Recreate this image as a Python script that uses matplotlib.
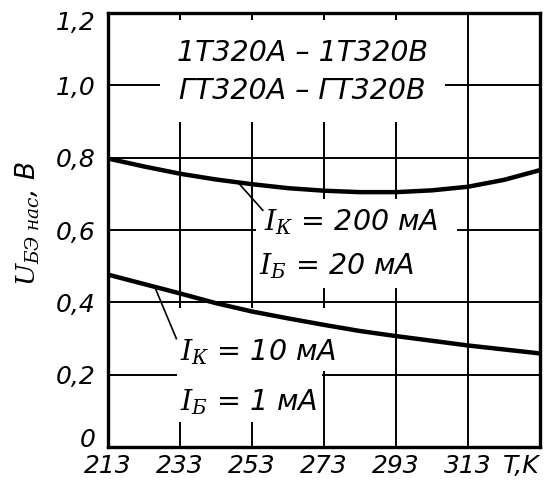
import matplotlib.pyplot as plt
import matplotlib.transforms as mtransforms
from matplotlib.patches import Rectangle

plt.rcParams['font.family'] = ['DejaVu Sans']
plt.rcParams['font.style'] = 'italic'
plt.rcParams['mathtext.fontset'] = 'dejavuserif'

# данные
T = [213, 223, 233, 243, 253, 263, 273, 283, 293, 303, 313, 323, 333]
u_200 = [0.798, 0.776, 0.756, 0.740, 0.727, 0.716, 0.709, 0.705, 0.705, 0.710, 0.720, 0.739, 0.766]
u_10 = [0.477, 0.451, 0.425, 0.398, 0.375, 0.356, 0.338, 0.321, 0.307, 0.294, 0.281, 0.270, 0.259]

x_ticks = [213, 233, 253, 273, 293, 313, 333]
x_labels = ['213', '233', '253', '273', '293', '313', 'T,K']
y_ticks = [0, 0.2, 0.4, 0.6, 0.8, 1.0, 1.2]
y_labels = ['0', '0,2', '0,4', '0,6', '0,8', '1,0', '1,2']

fig = plt.figure(figsize=(5.45, 4.86), dpi=100)
ax = fig.add_axes([0.198, 0.080, 0.793, 0.893])

ax.set_xlim(213, 333)
ax.set_ylim(0, 1.2)
ax.set_xticks(x_ticks)
ax.set_xticklabels(x_labels)
ax.set_yticks(y_ticks)
ax.set_yticklabels(y_labels)
ax.tick_params(length=0, labelsize=18)
ax.tick_params(axis='y', pad=9)
ax.tick_params(axis='x', pad=5)
ax.grid(True, color='black', linewidth=1.4, zorder=1)
for s in ax.spines.values():
    s.set_linewidth(2.4)

# сдвиг крайних подписей, как на исходнике
def shift(lbl, dx, dy):
    lbl.set_transform(lbl.get_transform() + mtransforms.ScaledTranslation(dx, dy, fig.dpi_scale_trans))

shift(ax.get_yticklabels()[0], 0, 0.10)
shift(ax.get_yticklabels()[-1], 0, -0.07)
shift(ax.get_xticklabels()[-1], -0.19, 0)

# белые "разрывы" сетки под надписями
gaps = [(227.5, 0.90, 79, 0.28),
        (254.0, 0.44, 56, 0.245),
        (232.3, 0.21, 43.2, 0.175),
        (232.3, 0.07, 40.2, 0.14)]
for x0, y0, w, h in gaps:
    ax.add_patch(Rectangle((x0, y0), w, h, facecolor='white', edgecolor='none', zorder=2))

ax.plot(T, u_200, color='black', linewidth=3.2, zorder=4)
ax.plot(T, u_10, color='black', linewidth=3.2, zorder=4)

ax.text(267, 1.089, '1Т320А – 1Т320В', fontsize=20.5, ha='center', va='center', zorder=5)
ax.text(267, 0.984, 'ГТ320А – ГТ320В', fontsize=20.5, ha='center', va='center', zorder=5)

ax.text(256.3, 0.622, r'$I_К$ = 200 мА', fontsize=20.5, ha='left', va='center', zorder=5)
ax.text(255.0, 0.500, r'$I_Б$ = 20 мА', fontsize=20.5, ha='left', va='center', zorder=5)
ax.text(233.0, 0.263, r'$I_К$ = 10 мА', fontsize=20.5, ha='left', va='center', zorder=5)
ax.text(233.0, 0.124, r'$I_Б$ = 1 мА', fontsize=20.5, ha='left', va='center', zorder=5)

ax.plot([249, 256], [0.733, 0.655], color='black', linewidth=1.2, zorder=4)
ax.plot([226, 232], [0.443, 0.300], color='black', linewidth=1.2, zorder=4)

fig.text(0.052, 0.54, r'$U_{БЭ\ нас}$, В', fontsize=19, rotation=90, ha='center', va='center')

fig.savefig('out.png', dpi=100, facecolor='white')
